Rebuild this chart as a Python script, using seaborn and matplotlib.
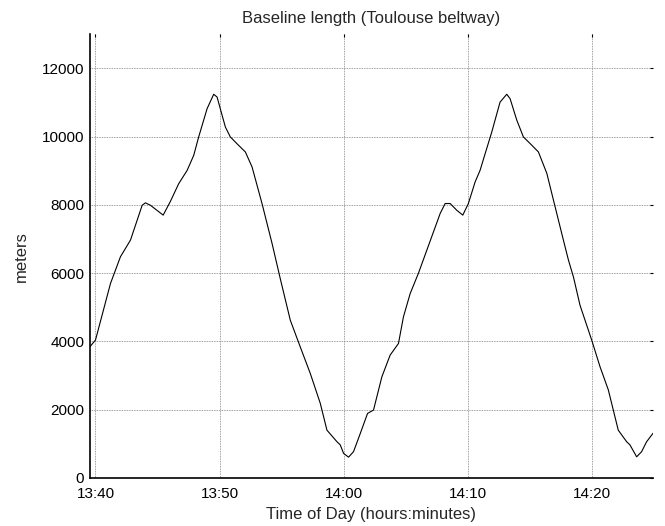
import numpy as np
import pandas as pd
import matplotlib
matplotlib.use('Agg')
import matplotlib.pyplot as plt
import matplotlib.dates as mdates
import seaborn as sns

# minutes after 13:40 and baseline length in meters
minutes = [-0.46, 0.0, 1.21, 2.01, 2.82, 3.76, 4.02, 4.42, 5.45, 6.03, 6.70, 7.38,
           7.91, 8.31, 8.99, 9.52, 9.79, 10.46, 10.86, 11.40, 12.07, 12.61, 13.41,
           14.22, 14.88, 15.69, 16.49, 17.30, 18.10, 18.64, 19.45, 19.71, 19.98,
           20.38, 20.78, 21.32, 21.91, 22.39, 23.06, 23.73, 24.40, 24.80, 25.34,
           26.01, 26.81, 27.76, 28.16, 28.56, 29.10, 29.58, 30.03, 30.57, 30.97,
           31.38, 31.91, 32.58, 33.12, 33.39, 33.93, 34.46, 35.13, 35.67, 36.35,
           36.88, 37.68, 38.09, 38.49, 39.02, 39.96, 40.63, 41.30, 42.10, 42.78,
           43.04, 43.58, 43.98, 44.38, 44.90]
meters = [3840, 4040, 5700, 6480, 6970, 7990, 8060, 7990, 7700, 8100, 8620, 9010,
          9450, 9990, 10820, 11240, 11160, 10280, 9990, 9790, 9550, 9110, 8040,
          6870, 5840, 4620, 3840, 3060, 2190, 1400, 1060, 970, 720,
          610, 770, 1300, 1890, 1990, 2960, 3600, 3940, 4720, 5400,
          6000, 6800, 7750, 8040, 8040, 7840, 7700, 8040, 8670, 9010,
          9500, 10130, 11010, 11240, 11110, 10480, 9990, 9750, 9550, 8920,
          8140, 6970, 6380, 5890, 5060, 4040, 3260, 2580, 1400, 1060,
          970, 620, 770, 1060, 1310]

start = pd.Timestamp('2010-01-01 13:40')
df = pd.DataFrame({'time': start + pd.to_timedelta(minutes, unit='min'),
                   'meters': meters})

sns.set_style('white')
plt.rcParams['font.family'] = ['Liberation Sans', 'DejaVu Sans']

fig = plt.figure(figsize=(6.65, 5.26), dpi=100)
ax = fig.add_axes([0.135, 0.0913, 0.847, 0.8437])
sns.lineplot(data=df, x='time', y='meters', color='black', linewidth=0.8, ax=ax)

ax.set_xlim(df['time'].min(), df['time'].max())
ax.set_ylim(0, 13000)
ax.set_yticks(np.arange(0, 12001, 2000))
ax.xaxis.set_major_locator(mdates.MinuteLocator(byminute=[0, 10, 20, 30, 40, 50]))
ax.xaxis.set_major_formatter(mdates.DateFormatter('%H:%M'))

ax.grid(True, color='#808080', linestyle=(0, (1, 1)), linewidth=0.6)
for side in ['top', 'right']:
    ax.spines[side].set_visible(False)
for side in ['left', 'bottom']:
    ax.spines[side].set_color('black')
    ax.spines[side].set_linewidth(1.2)
ax.tick_params(direction='in', length=2.5, width=0.8, colors='black',
               top=True, right=True, labelsize=11)
ax.tick_params(axis='x', pad=6.5)
ax.tick_params(axis='y', pad=4)

ax.set_title('Baseline length (Toulouse beltway)', fontsize=12, pad=8)
ax.set_xlabel('Time of Day (hours:minutes)', fontsize=12, labelpad=4)
ax.set_ylabel('meters', fontsize=12, labelpad=9)

fig.savefig('out.png', dpi=100)
